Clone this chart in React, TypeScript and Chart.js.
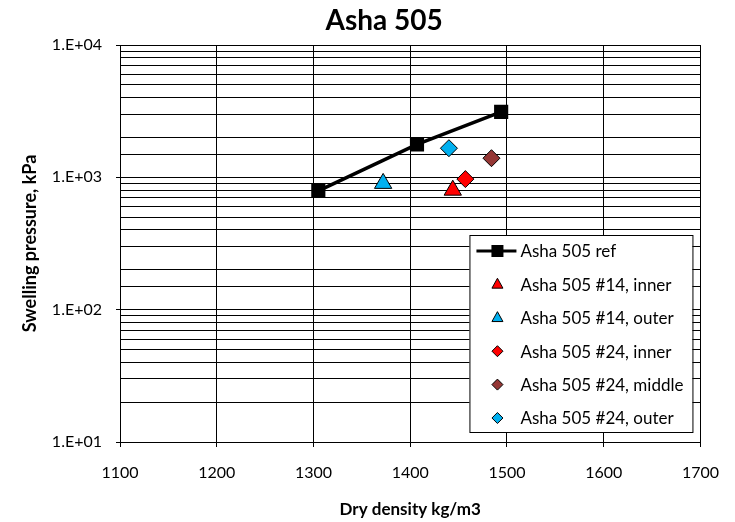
import React, { useEffect, useRef } from "react";
import { Chart, registerables } from "chart.js";

Chart.register(...registerables);

const titleText = "Asha 505";
const xTitle = "Dry density kg/m3";
const yTitle = "Swelling pressure, kPa";

const xTicks = [1100, 1200, 1300, 1400, 1500, 1600, 1700];

const seriesNames = [
  "Asha 505 ref",
  "Asha 505 #14, inner",
  "Asha 505 #14, outer",
  "Asha 505 #24, inner",
  "Asha 505 #24, middle",
  "Asha 505 #24, outer",
];
const seriesColors = ["#000000", "#FF0000", "#00B0F0", "#FF0000", "#953735", "#00B0F0"];
const seriesShapes = ["rect", "triangle", "triangle", "rectRot", "rectRot", "rectRot"];

const refX = [1305, 1407, 1494];
const refY = [790, 1775, 3120];
const in14X = [1444];
const in14Y = [800];
const out14X = [1372];
const out14Y = [900];
const in24X = [1457];
const in24Y = [970];
const mid24X = [1484];
const mid24Y = [1395];
const out24X = [1440];
const out24Y = [1660];

const FONT = "Lato, 'DejaVu Sans', sans-serif";

const toPts = (xs: number[], ys: number[]) => xs.map((x, i) => ({ x, y: ys[i] }));

function drawShape(ctx: CanvasRenderingContext2D, shape: string, x: number, y: number, s: number) {
  ctx.beginPath();
  if (shape === "rect") {
    ctx.rect(x - s, y - s, 2 * s, 2 * s);
  } else if (shape === "triangle") {
    const h = s * 1.8;
    ctx.moveTo(x, y - h * 0.62);
    ctx.lineTo(x + s, y + h * 0.38);
    ctx.lineTo(x - s, y + h * 0.38);
    ctx.closePath();
  } else {
    ctx.moveTo(x, y - s);
    ctx.lineTo(x + s, y);
    ctx.lineTo(x, y + s);
    ctx.lineTo(x - s, y);
    ctx.closePath();
  }
}

const overlayPlugin = {
  id: "overlay",
  afterDraw(chart: any) {
    const ctx: CanvasRenderingContext2D = chart.ctx;
    const ca = chart.chartArea;
    ctx.save();
    // title
    ctx.fillStyle = "#000";
    ctx.font = `bold 28px ${FONT}`;
    ctx.textAlign = "center";
    ctx.textBaseline = "middle";
    ctx.fillText(titleText, ca.left + (ca.right - ca.left) * 0.455, 21);

    // legend
    const lx = ca.right - 231;
    const ly = ca.top + 190;
    const lw = 223;
    const lh = 197;
    ctx.fillStyle = "#fff";
    ctx.fillRect(lx, ly, lw, lh);
    ctx.strokeStyle = "#000";
    ctx.lineWidth = 1;
    ctx.strokeRect(lx + 0.5, ly + 0.5, lw, lh);
    ctx.font = `17px ${FONT}`;
    ctx.textAlign = "left";
    ctx.textBaseline = "middle";
    seriesNames.forEach((name, i) => {
      const cy = ly + 16 + i * 33.4;
      const cx = lx + 28;
      if (i === 0) {
        ctx.strokeStyle = "#000";
        ctx.lineWidth = 3;
        ctx.beginPath();
        ctx.moveTo(lx + 7, cy);
        ctx.lineTo(lx + 47, cy);
        ctx.stroke();
        ctx.fillStyle = "#000";
        drawShape(ctx, "rect", cx, cy, 6);
        ctx.fill();
      } else {
        ctx.fillStyle = seriesColors[i];
        ctx.strokeStyle = "#000";
        ctx.lineWidth = 1;
        drawShape(ctx, seriesShapes[i], cx, cy, 5.5);
        ctx.fill();
        ctx.stroke();
      }
      ctx.fillStyle = "#000";
      ctx.fillText(name, lx + 51, cy + 1);
    });
    ctx.restore();
  },
};

function isMajor(v: number) {
  const l = Math.log10(v);
  return Math.abs(l - Math.round(l)) < 1e-9;
}

export default function App() {
  const ref = useRef<HTMLCanvasElement | null>(null);
  useEffect(() => {
    if (!ref.current) return;
    const xsList = [refX, in14X, out14X, in24X, mid24X, out24X];
    const ysList = [refY, in14Y, out14Y, in24Y, mid24Y, out24Y];
    const datasets = seriesNames.map((name, i) => ({
      label: name,
      data: toPts(xsList[i], ysList[i]),
      showLine: i === 0,
      borderColor: "#000",
      borderWidth: i === 0 ? 3.5 : 1,
      backgroundColor: seriesColors[i],
      pointBackgroundColor: seriesColors[i],
      pointBorderColor: "#000",
      pointBorderWidth: i === 0 ? 0 : 1,
      pointStyle: seriesShapes[i],
      pointRadius: i === 0 ? 10 : seriesShapes[i] === "triangle" ? 10 : 8.5,
    }));
    const chart = new Chart(ref.current, {
      type: "scatter",
      data: { datasets },
      plugins: [overlayPlugin],
      options: {
        animation: false,
        responsive: false,
        layout: { padding: { top: 45, right: 31, left: 0, bottom: 0 } },
        plugins: { legend: { display: false }, tooltip: { enabled: false }, title: { display: false } },
        scales: {
          x: {
            type: "linear",
            min: 1100,
            max: 1700,
            afterFit: (s: any) => {
              s.height = 80;
            },
            afterBuildTicks: (s: any) => {
              s.ticks = xTicks.map((v) => ({ value: v }));
            },
            ticks: {
              font: { family: FONT, size: 16 },
              color: "#000",
              padding: 16,
              callback: (v: any) => String(v),
            },
            grid: { color: "#000", lineWidth: 1, tickLength: 5, tickColor: "#000" },
            border: { color: "#000", width: 1 },
            title: {
              display: true,
              text: xTitle,
              font: { family: FONT, size: 17, weight: "bold" },
              color: "#000",
              padding: { top: 0, bottom: 2 },
            },
          },
          y: {
            type: "logarithmic",
            min: 10,
            max: 10000,
            afterFit: (s: any) => {
              s.width = 120;
            },
            ticks: {
              autoSkip: false,
              font: { family: FONT, size: 16 },
              color: "#000",
              padding: 14,
              callback: (v: any) => {
                const n = Number(v);
                if (!isMajor(n)) return "";
                const e = Math.round(Math.log10(n));
                return "1.E+" + (e < 10 ? "0" + e : String(e));
              },
            },
            grid: {
              color: "#000",
              lineWidth: 1,
              tickLength: 4,
              tickColor: (c: any) => (c.tick && isMajor(c.tick.value) ? "#000" : "rgba(0,0,0,0)"),
            },
            border: { color: "#000", width: 1 },
            title: {
              display: true,
              text: yTitle,
              font: { family: FONT, size: 18, weight: "bold" },
              color: "#000",
              padding: { top: 19, bottom: 0 },
            },
          },
        },
      },
    } as any);
    return () => chart.destroy();
  }, []);
  return (
    <div style={{ position: "fixed", left: 0, top: 0, width: 735, height: 522, background: "#fff" }}>
      <canvas ref={ref} width={735} height={522} style={{ width: 735, height: 522, display: "block" }} />
    </div>
  );
}
